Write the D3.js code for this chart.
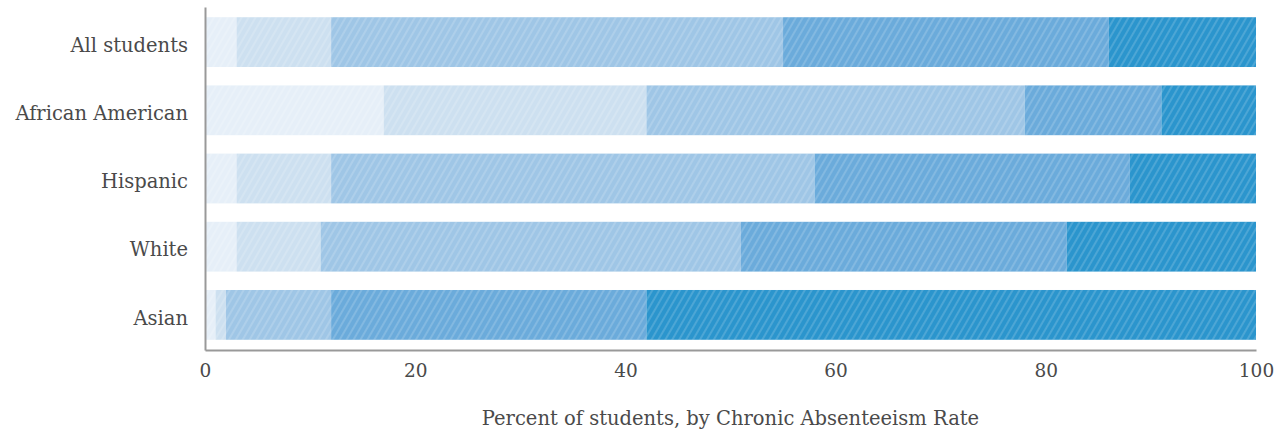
<!DOCTYPE html>
<html>
<head>
<meta charset="utf-8">
<script src="https://cdn.jsdelivr.net/npm/d3@7"></script>
<style>
  html, body { margin: 0; padding: 0; background: #fff; }
  svg text { font-family: "DejaVu Serif", serif; fill: #4a4a4a; }
</style>
</head>
<body>
<svg id="chart" width="1284" height="436"></svg>
<script>
// Student groups, top to bottom
const groups = ["All students", "African American", "Hispanic", "White", "Asian"];

// Share of students in each chronic-absenteeism band (percent), per group
const band1 = [3, 17, 3, 3, 1];
const band2 = [9, 25, 9, 8, 1];
const band3 = [43, 36, 46, 40, 10];
const band4 = [31, 13, 30, 31, 30];
const band5 = [14, 9, 12, 18, 58];

const bandColors = ["#e6eff8", "#cde0f0", "#9fc6e6", "#6babdb", "#2b95cd"];
const xTicks = [0, 20, 40, 60, 80, 100];
const xTitle = "Percent of students, by Chronic Absenteeism Rate";

const bands = [band1, band2, band3, band4, band5];
const rows = groups.map((g, i) => {
  const r = { group: g };
  bands.forEach((b, k) => { r["b" + k] = b[i]; });
  return r;
});
const keys = bands.map((_, k) => "b" + k);

const svg = d3.select("#chart");
const margin = { top: 7, right: 28, bottom: 86, left: 205 };
const width = 1284 - margin.left - margin.right;
const height = 436 - margin.top - margin.bottom;

const g = svg.append("g").attr("transform", `translate(${margin.left},${margin.top})`);

const x = d3.scaleLinear().domain([0, 100]).range([0, width]);
const y = d3.scaleBand().domain(groups).range([0, height]).paddingInner(0.27).paddingOuter(0.15);

// Diagonal white stripes laid over every segment
const defs = svg.append("defs");
const pat = defs.append("pattern")
  .attr("id", "stripes")
  .attr("patternUnits", "userSpaceOnUse")
  .attr("width", 6).attr("height", 6)
  .attr("patternTransform", "rotate(30)");
pat.append("rect").attr("x", 0).attr("y", 0).attr("width", 2).attr("height", 6)
  .attr("fill", "#fff").attr("fill-opacity", 0.16);

const stacked = d3.stack().keys(keys)(rows);

const layers = g.selectAll("g.layer").data(stacked).join("g").attr("class", "layer");
layers.selectAll("rect.seg")
  .data((d, k) => d.map(p => ({ p, k })))
  .join("rect")
  .attr("class", "seg")
  .attr("x", d => x(d.p[0]))
  .attr("y", d => y(d.p.data.group))
  .attr("width", d => x(d.p[1]) - x(d.p[0]))
  .attr("height", y.bandwidth())
  .attr("fill", d => bandColors[d.k]);
layers.selectAll("rect.hatch")
  .data((d, k) => d.map(p => ({ p, k })))
  .join("rect")
  .attr("class", "hatch")
  .attr("x", d => x(d.p[0]))
  .attr("y", d => y(d.p.data.group))
  .attr("width", d => x(d.p[1]) - x(d.p[0]))
  .attr("height", y.bandwidth())
  .attr("fill", "url(#stripes)");

// Axes
const xAxis = g.append("g")
  .attr("transform", `translate(0,${height})`)
  .call(d3.axisBottom(x).tickValues(xTicks).tickSize(0).tickPadding(14));
xAxis.select(".domain").attr("stroke", "#999").attr("stroke-width", 2);
xAxis.selectAll("text").attr("font-size", 18.5).attr("fill", "#4a4a4a")
  .style("font-family", "'DejaVu Serif', serif");

const yAxis = g.append("g")
  .call(d3.axisLeft(y).tickSize(0).tickPadding(17));
yAxis.select(".domain").attr("stroke", "#999").attr("stroke-width", 2);
yAxis.selectAll("text").attr("font-size", 19.5).attr("fill", "#4a4a4a")
  .attr("dy", "0.5em")
  .style("font-family", "'DejaVu Serif', serif");

g.append("text")
  .attr("x", width / 2)
  .attr("y", height + 75)
  .attr("text-anchor", "middle")
  .attr("font-size", 19.5)
  .attr("fill", "#4a4a4a")
  .text(xTitle);
</script>
</body>
</html>
